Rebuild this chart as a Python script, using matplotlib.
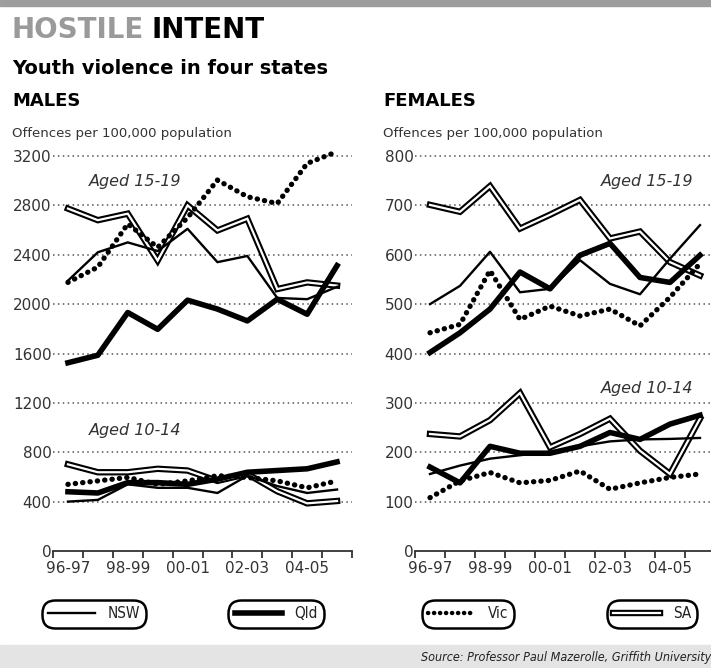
import matplotlib
matplotlib.use('Agg')
import matplotlib.pyplot as plt
from matplotlib.lines import Line2D
from matplotlib.patches import Rectangle
from matplotlib.legend_handler import HandlerTuple

# data (offences per 100,000 population)
years = ['96-97', '97-98', '98-99', '99-00', '00-01', '01-02', '02-03', '03-04', '04-05', '05-06']
tick_years = ['96-97', '98-99', '00-01', '02-03', '04-05']

m_1519_nsw = [2190, 2420, 2500, 2430, 2610, 2340, 2390, 2050, 2040, 2140]
m_1519_qld = [1525, 1586, 1932, 1796, 2032, 1960, 1864, 2040, 1918, 2312]
m_1519_vic = [2176, 2300, 2650, 2460, 2700, 3005, 2870, 2815, 3140, 3235]
m_1519_sa = [2774, 2680, 2733, 2353, 2800, 2597, 2692, 2122, 2176, 2150]

m_1014_nsw = [400, 414, 540, 512, 512, 470, 610, 526, 470, 498]
m_1014_qld = [480, 470, 554, 554, 540, 582, 638, 652, 666, 722]
m_1014_vic = [540, 568, 596, 540, 568, 610, 596, 568, 512, 568]
m_1014_sa = [702, 638, 638, 666, 652, 568, 624, 484, 386, 405]

f_1519_nsw = [500, 537, 606, 524, 531, 589, 541, 520, 592, 660]
f_1519_qld = [402, 442, 490, 565, 531, 599, 623, 554, 544, 599]
f_1519_vic = [442, 459, 568, 469, 496, 476, 490, 456, 514, 582]
f_1519_sa = [701, 687, 739, 653, 681, 711, 633, 647, 585, 558]

f_1014_nsw = [156, 173, 187, 194, 201, 212, 222, 226, 227, 229]
f_1014_qld = [170, 138, 212, 198, 198, 212, 240, 226, 257, 275]
f_1014_vic = [108, 142, 159, 138, 143, 162, 125, 138, 149, 156]
f_1014_sa = [237, 232, 265, 320, 210, 237, 268, 203, 156, 268]

W, H = 711, 668
grey_txt = '#333333'

fig = plt.figure(figsize=(W / 100, H / 100), dpi=100)


def box(left, right, top, bottom):
    return [left / W, 1 - bottom / H, (right - left) / W, (bottom - top) / H]


def fx(p):
    return p / W


def fy(p):
    return 1 - p / H


# decorative bands
fig.patches.append(Rectangle((0, fy(6)), 1, 6 / H, transform=fig.transFigure,
                             color='#9d9d9d', zorder=0))
fig.patches.append(Rectangle((0, 0), 1, 23 / H, transform=fig.transFigure,
                             color='#e4e4e4', zorder=0))

# titles
fig.text(fx(11), fy(30), 'HOSTILE', fontsize=20, fontweight='bold', color='#9a9a9a',
         va='center', ha='left')
fig.text(fx(152), fy(30), 'INTENT', fontsize=20, fontweight='bold', color='black',
         va='center', ha='left')
fig.text(fx(12), fy(69), 'Youth violence in four states', fontsize=14, fontweight='bold',
         va='center', ha='left')
fig.text(fx(12), fy(101), 'MALES', fontsize=13, fontweight='bold', va='center')
fig.text(fx(383), fy(101), 'FEMALES', fontsize=13, fontweight='bold', va='center')
fig.text(fx(12), fy(133), 'Offences per 100,000 population', fontsize=9.5, color=grey_txt,
         va='center')
fig.text(fx(383), fy(133), 'Offences per 100,000 population', fontsize=9.5, color=grey_txt,
         va='center')
fig.text(fx(711), fy(657), 'Source: Professor Paul Mazerolle, Griffith University',
         fontsize=9, style='italic', color='#222222', ha='right', va='center',
         fontstretch='condensed')

xs = [i + 0.5 for i in range(len(years))]


def draw_set(ax, nsw, qld, vic, sa):
    ax.plot(xs, sa, color='black', lw=4.6, solid_joinstyle='miter', zorder=3)
    ax.plot(xs, sa, color='white', lw=1.6, solid_joinstyle='miter', zorder=3.1)
    ax.plot(xs, nsw, color='black', lw=1.7, zorder=3.2)
    ax.plot(xs, qld, color='black', lw=4, zorder=3.3)
    ax.plot(xs, vic, color='black', lw=3.8, linestyle=(0, (0.05, 1.35)),
            dash_capstyle='round', zorder=3.4)


def style_axes(ax, ymax, yticks):
    ax.set_xlim(0, 10)
    ax.set_ylim(0, ymax)
    for s in ['left', 'right', 'top']:
        ax.spines[s].set_visible(False)
    ax.spines['bottom'].set_color(grey_txt)
    ax.spines['bottom'].set_linewidth(1.3)
    ax.set_yticks(yticks)
    ax.set_yticklabels([str(v) for v in yticks])
    ax.tick_params(axis='y', length=0, pad=1, labelsize=11, labelcolor=grey_txt)
    for v in yticks[1:]:
        ax.axhline(v, color='#555555', lw=1.1, linestyle=(0, (1, 2.2)), zorder=1)
    ax.set_xticks(range(11))
    ax.set_xticklabels([])
    ax.tick_params(axis='x', which='major', length=5, width=1.3, color=grey_txt,
                   direction='out')
    ax.set_xticks([xs[years.index(t)] for t in tick_years], minor=True)
    ax.set_xticklabels(tick_years, minor=True)
    ax.tick_params(axis='x', which='minor', length=0, pad=7, labelsize=11,
                   labelcolor=grey_txt)
    ax.patch.set_alpha(0)


# males
axm = fig.add_axes(box(53, 352, 551 - 3280 * 395 / 3200, 551))
style_axes(axm, 3280, [0, 400, 800, 1200, 1600, 2000, 2400, 2800, 3200])
draw_set(axm, m_1519_nsw, m_1519_qld, m_1519_vic, m_1519_sa)
draw_set(axm, m_1014_nsw, m_1014_qld, m_1014_vic, m_1014_sa)
axm.text(2.73, 2997, 'Aged 15-19', style='italic', fontsize=11.5, color=grey_txt,
         ha='center', va='center')
axm.text(2.73, 980, 'Aged 10-14', style='italic', fontsize=11.5, color=grey_txt,
         ha='center', va='center')

# females
axf = fig.add_axes(box(415, 715, 551 - 820 * 395 / 800, 551))
style_axes(axf, 820, [0, 100, 200, 300, 400, 500, 600, 700, 800])
draw_set(axf, f_1519_nsw, f_1519_qld, f_1519_vic, f_1519_sa)
draw_set(axf, f_1014_nsw, f_1014_qld, f_1014_vic, f_1014_sa)
axf.text(7.73, 749, 'Aged 15-19', style='italic', fontsize=11.5, color=grey_txt,
         ha='center', va='center')
axf.text(7.73, 330, 'Aged 10-14', style='italic', fontsize=11.5, color=grey_txt,
         ha='center', va='center')

# legend pills
h_nsw = Line2D([], [], color='black', lw=1.7)
h_qld = Line2D([], [], color='black', lw=4)
h_vic = Line2D([], [], color='black', lw=3.2, linestyle=(0, (0.05, 1.3)), dash_capstyle='round')
h_sa = (Line2D([], [], color='black', lw=4.6), Line2D([], [], color='white', lw=1.6))
entries = [(h_nsw, 'NSW', 94), (h_qld, 'Qld', 276), (h_vic, 'Vic', 468), (h_sa, 'SA', 652)]
for handle, label, cx in entries:
    leg = fig.legend([handle], [label], loc='center', bbox_to_anchor=(fx(cx), fy(614)),
                     frameon=True, handlelength=3.1, handletextpad=0.8,
                     borderpad=0.15, borderaxespad=0,
                     handler_map={tuple: HandlerTuple(ndivide=1)},
                     prop={'size': 11, 'stretch': 'condensed'})
    frame = leg.get_frame()
    frame.set_boxstyle('round,pad=0.25,rounding_size=0.85')
    frame.set_edgecolor('black')
    frame.set_linewidth(1.8)
    frame.set_facecolor('white')
    frame.set_alpha(1)
    for t in leg.get_texts():
        t.set_color('#222222')

fig.savefig('out.png', dpi=100)
